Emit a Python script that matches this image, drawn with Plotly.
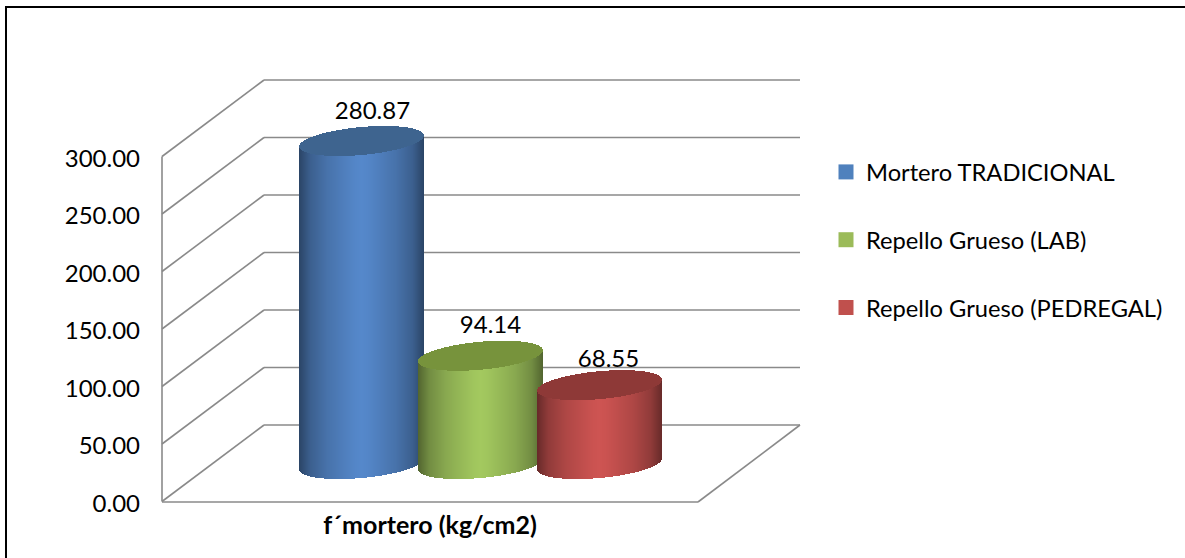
import math
import plotly.graph_objects as go

# ---- data -------------------------------------------------------------
series_names = ["Mortero TRADICIONAL", "Repello Grueso (LAB)", "Repello Grueso (PEDREGAL)"]
series_values = [280.87, 94.14, 68.55]
category_label = ["f´mortero (kg/cm2)"]
value_ticks = [0, 50, 100, 150, 200, 250, 300]
centre_colours = ["#5588CB", "#A3C95F", "#CE5452"]
top_colours = ["#3E648F", "#77933C", "#8E3937"]
legend_colours = ["#4F81BD", "#9BBB59", "#C0504D"]

# ---- geometry of the oblique frame (pixels of the 1185x558 canvas) -----
W, H = 1185, 558
PX_PER_UNIT = 1.15
ZERO_PX = 501.5
LABEL_DROP_PX = 2
FRONT_X, BACK_X, RIGHT_X, FLOOR_RIGHT_X = 162, 264, 800, 698
BACK_LIFT = 76.5 / PX_PER_UNIT
FLOOR_FRONT_Y = -0.5 / PX_PER_UNIT
BAR_CENTRES = [361.5, 480.5, 599.5]
BAR_BASE = (ZERO_PX - 464) / PX_PER_UNIT
HALF_W, HALF_H, SHEAR = 62.5, 14.0, 0.088
LABEL_DX = [11, 10, 9]
LABEL_DY = [28, 29, 24]
GRID = "#8A8A8A"


def shade(hex_colour, factor):
    rgb = [int(hex_colour[i:i + 2], 16) for i in (1, 3, 5)]
    return "rgb(%d,%d,%d)" % tuple(round(c * factor) for c in rgb)


def body_factor(t):
    stops = [(0, 1.0), (0.12, 0.98), (0.55, 0.84), (0.82, 0.70), (1.0, 0.50)]
    for (a, fa), (b, fb) in zip(stops, stops[1:]):
        if t <= b:
            return fa + (fb - fa) * (t - a) / (b - a)
    return stops[-1][1]


fig = go.Figure()

for k, value in enumerate(series_values):
    cx = BAR_CENTRES[k]
    xs, low_base, top_low, top_high, body_cols = [], [], [], [], []
    for i in range(int(2 * HALF_W)):
        x = cx - HALF_W + 0.5 + i
        u = (x - cx) / HALF_W
        half = HALF_H * math.sqrt(max(0.0, 1 - u * u)) / PX_PER_UNIT
        tilt = SHEAR * (x - cx) / PX_PER_UNIT
        centre_bottom = BAR_BASE + tilt
        centre_top = BAR_BASE + value + tilt
        xs.append(x)
        low_base.append(centre_bottom - half)
        top_low.append(centre_top - half)
        top_high.append(centre_top + half)
        body_cols.append(shade(centre_colours[k], body_factor(abs(u))))
    fig.add_trace(go.Bar(
        x=xs, base=low_base, y=[t - b for t, b in zip(top_low, low_base)],
        width=1, marker=dict(color=body_cols, line=dict(width=0)),
        showlegend=False, hoverinfo="skip"))
    fig.add_trace(go.Bar(
        x=xs, base=top_low, y=[t - b for t, b in zip(top_high, top_low)],
        width=1, marker=dict(color=top_colours[k], line=dict(width=0)),
        showlegend=False, hoverinfo="skip"))

# data labels
fig.add_trace(go.Scatter(
    x=[BAR_CENTRES[k] + LABEL_DX[k] for k in range(3)],
    y=[BAR_BASE + v + LABEL_DY[k] / PX_PER_UNIT for k, v in enumerate(series_values)],
    mode="text", text=["%.2f" % v for v in series_values],
    textposition="middle center",
    textfont=dict(family="Lato", size=24, color="#000000"),
    showlegend=False, hoverinfo="skip"))

# legend entries
for name, colour in zip(series_names, legend_colours):
    fig.add_trace(go.Scatter(
        x=[None], y=[None], mode="markers", name=name, legendgroup=name,
        marker=dict(symbol="square", size=15, color=colour, line=dict(width=0))))

# second value axis: carries the tick labels, sitting slightly below the frame lines
fig.add_trace(go.Scatter(x=[None], y=[None], yaxis="y2", mode="markers",
                         showlegend=False, hoverinfo="skip"))

# oblique walls and floor, built from the value ticks
shapes = []
line = dict(color=GRID, width=1.6)
for t in value_ticks:
    shapes.append(dict(type="line", layer="below", xref="x", yref="y", x0=FRONT_X, x1=BACK_X,
                       y0=t, y1=t + BACK_LIFT, line=line))
    shapes.append(dict(type="line", layer="below", xref="x", yref="y", x0=BACK_X, x1=RIGHT_X,
                       y0=t + BACK_LIFT, y1=t + BACK_LIFT, line=line))
shapes.append(dict(type="line", layer="below", xref="x", yref="y", x0=FRONT_X, x1=FRONT_X,
                   y0=0, y1=max(value_ticks), line=line))
shapes.append(dict(type="line", layer="below", xref="x", yref="y", x0=FRONT_X, x1=FLOOR_RIGHT_X,
                   y0=FLOOR_FRONT_Y, y1=FLOOR_FRONT_Y, line=line))
shapes.append(dict(type="line", layer="below", xref="x", yref="y", x0=FLOOR_RIGHT_X, x1=RIGHT_X,
                   y0=FLOOR_FRONT_Y, y1=BACK_LIFT, line=line))
# outer frame of the picture (left and top edges only)
border = dict(color="#000000", width=2)
shapes.append(dict(type="line", xref="paper", yref="paper", x0=6 / W, x1=6 / W,
                   y0=0, y1=1 - 7 / H, line=border))
shapes.append(dict(type="line", xref="paper", yref="paper", x0=5 / W, x1=1,
                   y0=1 - 7 / H, y1=1 - 7 / H, line=border))

label_zero = ZERO_PX + LABEL_DROP_PX

fig.update_layout(
    width=W, height=H, margin=dict(l=0, r=0, t=0, b=0),
    paper_bgcolor="#FFFFFF", plot_bgcolor="#FFFFFF",
    barmode="overlay", bargap=0, shapes=shapes, hovermode=False,
    font=dict(family="Lato", color="#000000"),
    legend=dict(x=826 / W, y=1 - 150 / H, xanchor="left", yanchor="top",
                font=dict(family="Lato", size=23.7, color="#000000"),
                tracegroupgap=34, itemsizing="trace",
                bgcolor="rgba(0,0,0,0)", borderwidth=0),
    xaxis=dict(range=[0, W], domain=[0, 1], anchor="free", position=(H - ZERO_PX) / H,
               tickmode="array", tickvals=[430], ticktext=["<b>%s</b>" % category_label[0]],
               tickfont=dict(family="Lato", size=25, color="#000000"),
               ticks="", showgrid=False, zeroline=False, showline=False, ticklabelstandoff=6),
    yaxis=dict(range=[(ZERO_PX - H) / PX_PER_UNIT, ZERO_PX / PX_PER_UNIT], domain=[0, 1],
               anchor="free", position=FRONT_X / W, visible=False),
    yaxis2=dict(range=[(label_zero - H) / PX_PER_UNIT, label_zero / PX_PER_UNIT], domain=[0, 1],
                anchor="free", position=FRONT_X / W, overlaying="y", side="left",
                tickmode="array", tickvals=value_ticks, tickformat=".2f",
                tickfont=dict(family="Lato", size=24, color="#000000"),
                ticks="", showgrid=False, zeroline=False, showline=False, ticklabelstandoff=22),
)

fig.write_html("out.html", config=dict(displayModeBar=False),
               post_script="document.body.style.margin='0';")
